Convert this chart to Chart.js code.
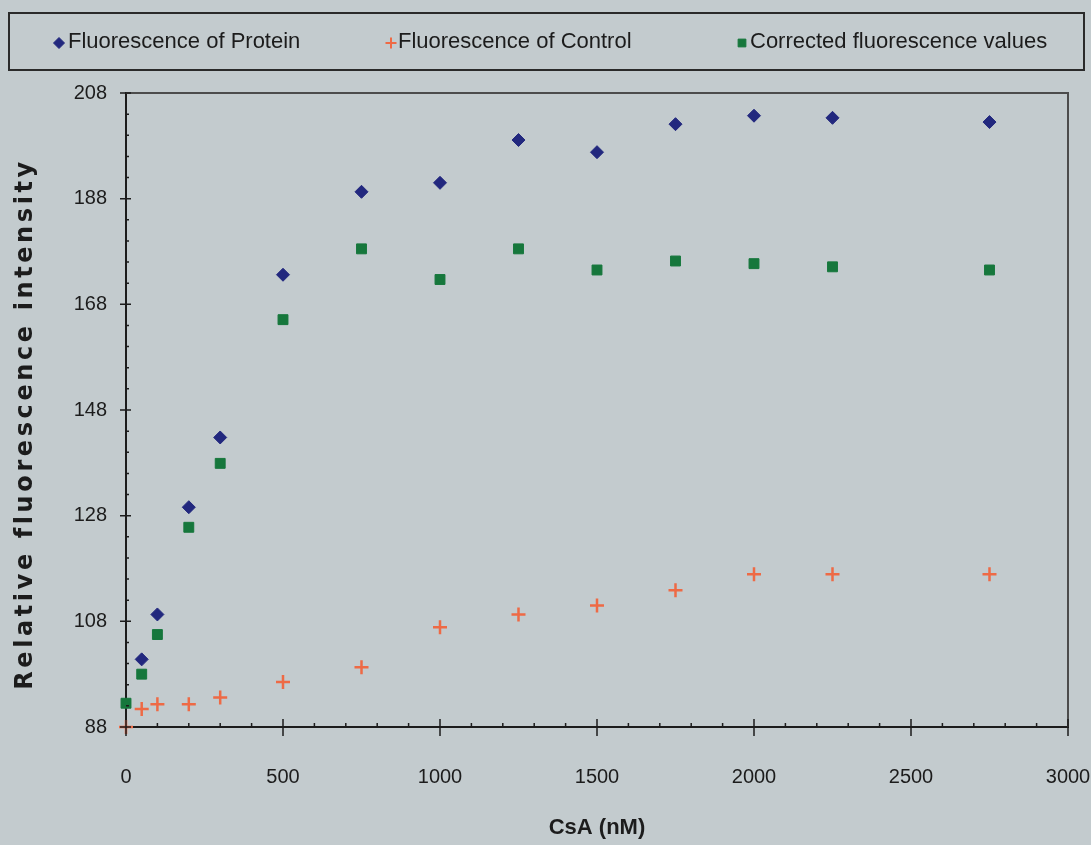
<!DOCTYPE html>
<html>
<head>
<meta charset="utf-8">
<script src="https://cdn.jsdelivr.net/npm/chart.js@4.4.1/dist/chart.umd.min.js"></script>
<style>
  html, body { margin: 0; padding: 0; background: #c3cbce; }
  canvas { display: block; }
</style>
</head>
<body>
<canvas id="chart" width="1091" height="845"></canvas>
<script>
// CsA concentration (nM) and the three measured series
const concentrations = [0, 50, 100, 200, 300, 500, 750, 1000, 1250, 1500, 1750, 2000, 2250, 2750];
const protein   = [null, 100.8, 109.3, 129.6, 142.8, 173.6, 189.3, 191.0, 199.1, 196.8, 202.1, 203.7, 203.3, 202.5];
const control   = [88.0, 91.4, 92.3, 92.3, 93.6, 96.5, 99.3, 106.9, 109.3, 111.0, 113.9, 116.9, 116.9, 116.9];
const corrected = [92.5, 98.0, 105.5, 125.8, 137.9, 165.1, 178.5, 172.7, 178.5, 174.5, 176.2, 175.7, 175.1, 174.5];

const yTicks = [88, 108, 128, 148, 168, 188, 208];
const xTicks = [0, 500, 1000, 1500, 2000, 2500, 3000];
const yMinorStep = 4;
const xMinorStep = 100;

const FONT = '"Liberation Sans", Arial, sans-serif';
const INK = "#1c1c1c";

const toPoints = ys => concentrations.map((x, i) => ({ x, y: ys[i] })).filter(p => p.y !== null);

// legend spread across a framed strip, as in the original
const legendSlots = [{ mark: 59, text: 68 }, { mark: 391, text: 398 }, { mark: 742, text: 750 }];

const frame = {
  id: "frame",
  afterDraw(chart) {
    const { ctx, chartArea: a, scales: { x, y } } = chart;
    ctx.save();

    // legend
    ctx.strokeStyle = "#2a2a2a";
    ctx.lineWidth = 2;
    ctx.strokeRect(9, 13, 1075, 57);
    ctx.font = "22px " + FONT;
    ctx.textBaseline = "middle";
    ctx.fillStyle = INK;
    chart.data.datasets.forEach((ds, i) => {
      const slot = legendSlots[i];
      ctx.save();
      ctx.fillStyle = ds.backgroundColor;
      ctx.strokeStyle = ds.borderColor;
      ctx.lineWidth = ds.pointStyle === "cross" ? 2 : 1;
      Chart.helpers.drawPoint(ctx, { pointStyle: ds.pointStyle, radius: ds.pointStyle === "rect" ? 5.5 : 5.5, borderWidth: ctx.lineWidth }, slot.mark, 43);
      ctx.restore();
      ctx.fillText(ds.label, slot.text, 42);
    });

    // plot frame (top and right)
    ctx.strokeStyle = "#4c4c4c";
    ctx.lineWidth = 2;
    ctx.beginPath();
    ctx.moveTo(a.left, a.top); ctx.lineTo(a.right, a.top); ctx.lineTo(a.right, a.bottom);
    ctx.stroke();

    // major ticks cross the axes, minor ticks point inward
    ctx.strokeStyle = INK;
    ctx.lineWidth = 1.5;
    ctx.beginPath();
    for (let v = y.min; v <= y.max; v += yMinorStep) {
      const py = y.getPixelForValue(v);
      if (yTicks.includes(v)) { ctx.moveTo(a.left - 6, py); ctx.lineTo(a.left + 5, py); }
      else { ctx.moveTo(a.left, py); ctx.lineTo(a.left + 3, py); }
    }
    for (let v = x.min; v <= x.max; v += xMinorStep) {
      const px = x.getPixelForValue(v);
      if (xTicks.includes(v)) { ctx.moveTo(px, a.bottom - 8); ctx.lineTo(px, a.bottom + 9); }
      else { ctx.moveTo(px, a.bottom); ctx.lineTo(px, a.bottom - 4); }
    }
    ctx.stroke();

    // y title with the wide tracking of the original
    ctx.translate(26, (a.top + a.bottom) / 2 + 14);
    ctx.rotate(-Math.PI / 2);
    ctx.font = 'bold 24px "DejaVu Sans", sans-serif';
    ctx.letterSpacing = "3.6px";
    ctx.fillStyle = INK;
    ctx.textAlign = "center";
    ctx.textBaseline = "middle";
    ctx.fillText("Relative fluorescence intensity", 0, 0);
    ctx.restore();
  }
};

new Chart(document.getElementById("chart"), {
  type: "scatter",
  data: {
    datasets: [
      { label: "Fluorescence of Protein", data: toPoints(protein), pointStyle: "rectRot", pointRadius: 6.5, pointHoverRadius: 6.5,
        backgroundColor: "#22287e", borderColor: "#22287e", borderWidth: 1, clip: false },
      { label: "Fluorescence of Control", data: toPoints(control), pointStyle: "cross", pointRadius: 7, pointHoverRadius: 7,
        backgroundColor: "#ee6a45", borderColor: "#ee6a45", borderWidth: 2.5, clip: false },
      { label: "Corrected fluorescence values", data: toPoints(corrected), pointStyle: "rect", pointRadius: 7, pointHoverRadius: 7,
        backgroundColor: "#16773c", borderColor: "#16773c", borderWidth: 1, clip: false }
    ]
  },
  options: {
    responsive: false,
    animation: false,
    layout: { padding: { top: 93, left: 0, right: 23, bottom: 0 } },
    plugins: {
      legend: { display: false },
      tooltip: { enabled: false }
    },
    scales: {
      x: {
        type: "linear", min: 0, max: 3000,
        afterBuildTicks: s => { s.ticks = xTicks.map(value => ({ value })); },
        afterFit: s => { s.height = 118; s.paddingLeft = 0; s.paddingRight = 0; },
        grid: { display: false, drawTicks: false },
        border: { color: INK, width: 2 },
        ticks: { color: INK, padding: 38, maxRotation: 0, font: { family: FONT, size: 20 },
          callback: v => String(v) },
        title: { display: true, text: "CsA (nM)", color: INK, padding: { top: 0, bottom: 4 },
          font: { family: FONT, size: 22, weight: "bold" } }
      },
      y: {
        min: 88, max: 208,
        afterBuildTicks: s => { s.ticks = yTicks.map(value => ({ value })); },
        afterFit: s => { s.width = 126; s.paddingTop = 0; s.paddingBottom = 0; },
        grid: { display: false, drawTicks: false },
        border: { color: INK, width: 2 },
        ticks: { color: INK, padding: 19, font: { family: FONT, size: 20 }, callback: v => String(v) }
      }
    }
  },
  plugins: [frame]
});
</script>
</body>
</html>
